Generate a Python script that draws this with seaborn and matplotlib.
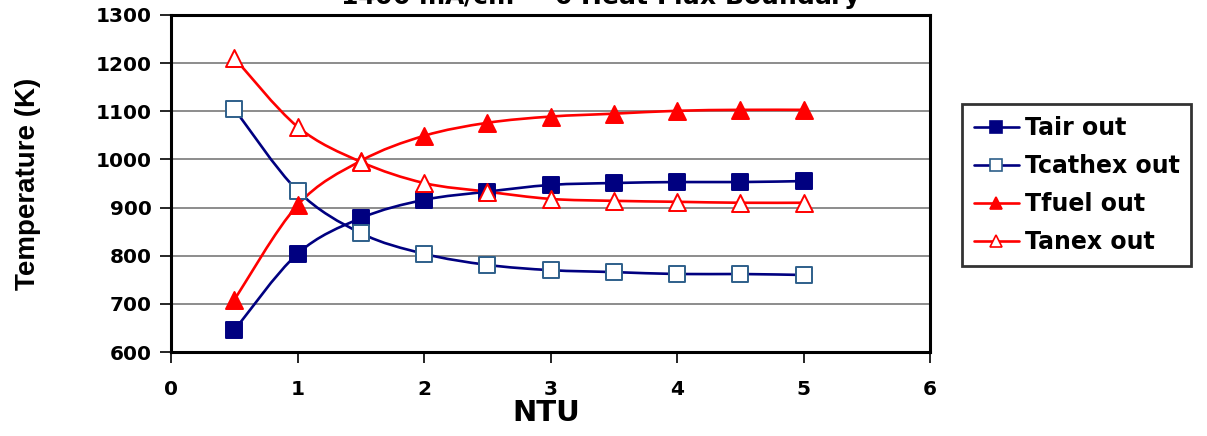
import numpy as np
import pandas as pd
import matplotlib
matplotlib.use("Agg")
import matplotlib.pyplot as plt
from matplotlib.path import Path
from matplotlib.patches import PathPatch
from matplotlib.lines import Line2D
import seaborn as sns

# NTU values and outlet temperatures (K)
ntu = [0.5, 1.0, 1.5, 2.0, 2.5, 3.0, 3.5, 4.0, 4.5, 5.0]
t_air_out = [645, 804, 878, 916, 933, 947, 951, 953, 953, 955]
t_cathex_out = [1105, 935, 847, 804, 781, 770, 766, 762, 762, 760]
t_fuel_out = [708, 905, 997, 1049, 1076, 1089, 1095, 1101, 1103, 1103]
t_anex_out = [1211, 1068, 995, 951, 933, 918, 914, 912, 910, 910]

series_names = ["Tair out", "Tcathex out", "Tfuel out", "Tanex out"]
x_ticks = [0, 1, 2, 3, 4, 5, 6]
y_ticks = [600, 700, 800, 900, 1000, 1100, 1200, 1300]

NAVY = "#000080"
STEEL = "#2E5F8A"
RED = "#FF0000"

styles = {
    "Tair out": dict(line=NAVY, marker="s", face=NAVY, edge=NAVY, size=120),
    "Tcathex out": dict(line=NAVY, marker="s", face="white", edge=STEEL, size=120),
    "Tfuel out": dict(line=RED, marker="^", face=RED, edge=RED, size=150),
    "Tanex out": dict(line=RED, marker="^", face="white", edge=RED, size=150),
}

df = pd.DataFrame({
    "NTU": ntu * 4,
    "T": t_air_out + t_cathex_out + t_fuel_out + t_anex_out,
    "series": sum([[n] * len(ntu) for n in series_names], []),
})

sns.set_theme(style="white")
plt.rcParams["font.family"] = ["DejaVu Sans"]
plt.rcParams["font.weight"] = "bold"
for key in ["text.color", "axes.labelcolor", "xtick.color", "ytick.color"]:
    plt.rcParams[key] = "black"

WIDE = "DejaVu Sans"
NARROW = ["Liberation Sans", "DejaVu Sans"]

fig = plt.figure(figsize=(12.07, 4.36), dpi=100)
ax = fig.add_axes([171 / 1207, 84 / 436, 759 / 1207, 337 / 436])


def smooth_path(xs, ys):
    """Bezier path through the points (Catmull-Rom style tangents)."""
    pts = np.column_stack([xs, ys]).astype(float)
    n = len(pts)
    verts = [pts[0]]
    codes = [Path.MOVETO]
    for i in range(n - 1):
        p0 = pts[i - 1] if i > 0 else pts[i]
        p1 = pts[i]
        p2 = pts[i + 1]
        p3 = pts[i + 2] if i + 2 < n else pts[i + 1]
        c1 = p1 + (p2 - p0) / 6.0
        c2 = p2 - (p3 - p1) / 6.0
        verts += [c1, c2, p2]
        codes += [Path.CURVE4] * 3
    return Path(verts, codes)


for name in series_names:
    st = styles[name]
    sub = df[df["series"] == name]
    ax.add_patch(PathPatch(smooth_path(sub["NTU"].values, sub["T"].values),
                           facecolor="none", edgecolor=st["line"], lw=1.9,
                           zorder=2))
for name in series_names:
    st = styles[name]
    sub = df[df["series"] == name]
    sns.scatterplot(data=sub, x="NTU", y="T", ax=ax, marker=st["marker"],
                    s=st["size"], color=st["face"], edgecolor=st["edge"],
                    linewidth=1.4, zorder=3, legend=False)

ax.set_xlim(0, 6)
ax.set_ylim(600, 1300)
ax.set_xticks(x_ticks)
ax.set_yticks(y_ticks)
ax.set_xticklabels([str(v) for v in x_ticks], fontsize=14.5,
                   fontweight="bold", family=WIDE)
ax.set_yticklabels([str(v) for v in y_ticks], fontsize=14.5,
                   fontweight="bold", family=WIDE)
ax.tick_params(axis="both", direction="out", length=8, width=1.2,
               color="black", bottom=True, left=True)
ax.tick_params(axis="x", pad=12)
ax.tick_params(axis="y", pad=6)
ax.grid(axis="y", color="#8C8C8C", lw=1.4)
ax.grid(axis="x", visible=False)
ax.set_axisbelow(True)
for sp in ax.spines.values():
    sp.set_visible(True)
    sp.set_color("black")
    sp.set_linewidth(2.2)

ax.set_xlabel("")
ax.set_ylabel("")
fig.text(546 / 1207, 1 - 413 / 436, "NTU", ha="center", va="center",
         fontsize=21, fontweight="bold", family=WIDE)
fig.text(28 / 1207, 1 - 184 / 436, "Temperature (K)", ha="center",
         va="center", rotation=90, fontsize=20, fontweight="bold",
         family=NARROW)

fig.text(601 / 1207, 1 - 6 / 436, "1400 mA/cm$^2$ - 0 Heat Flux Boundary",
         ha="center", va="baseline", fontsize=18, fontweight="bold",
         family=WIDE)

handles = []
for name in series_names:
    st = styles[name]
    handles.append(Line2D([], [], color=st["line"], lw=1.9, marker=st["marker"],
                          markersize=8, markerfacecolor=st["face"],
                          markeredgecolor=st["edge"], markeredgewidth=1.2))
leg = fig.legend(handles, series_names, loc="upper left",
                 bbox_to_anchor=(962 / 1207, 1 - 104 / 436),
                 prop=dict(size=17, weight="bold", family=WIDE), frameon=True,
                 fancybox=False, handlelength=1.9, handletextpad=0.25,
                 labelspacing=0.6, borderpad=0.5, borderaxespad=0)
leg.get_frame().set_edgecolor("black")
leg.get_frame().set_linewidth(2.0)

fig.savefig("out.png", dpi=100)
